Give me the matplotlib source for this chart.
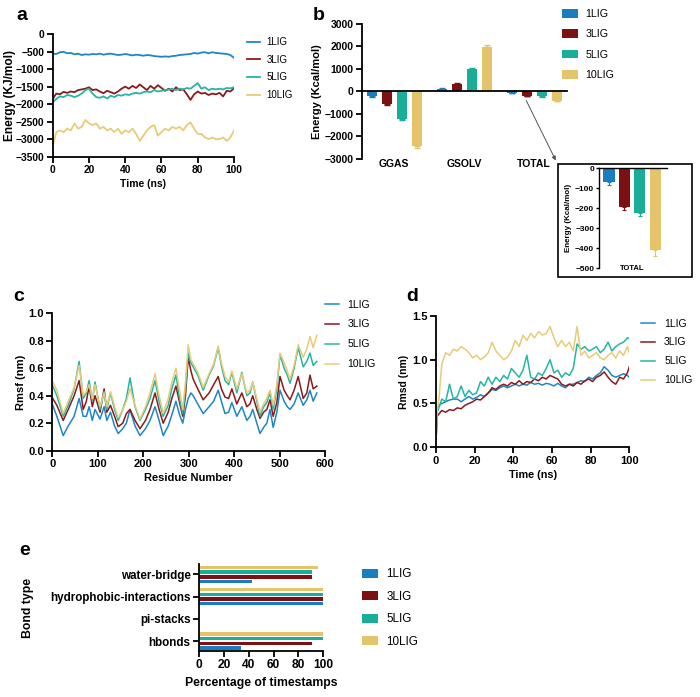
import numpy as np
import matplotlib
matplotlib.use("Agg")
import matplotlib.pyplot as plt
from matplotlib.patches import Rectangle, FancyArrowPatch
from matplotlib.transforms import blended_transform_factory

plt.rcParams['font.family'] = ['Liberation Sans', 'DejaVu Sans']

# ---------------- data ----------------
series = ["1LIG", "3LIG", "5LIG", "10LIG"]
colors = ["#1a7dc0", "#7b1113", "#1aae98", "#e3c46a"]
line_colors = ["#1f86c4", "#8a1a1c", "#26b5a2", "#e6cc78"]

# (a) energy vs time, every 2 ns
time_a = list(range(0, 101, 2))
energy_1lig = [-560, -570, -520, -510, -550, -540, -580, -560, -600, -580, -590, -570, -580, -560, -590, -570,
               -560, -580, -600, -590, -570, -590, -610, -590, -600, -620, -600, -610, -630, -640, -650, -640,
               -650, -630, -620, -600, -590, -580, -570, -540, -560, -530, -520, -550, -520, -540, -550, -560,
               -570, -600, -680]
energy_3lig = [-1850, -1700, -1720, -1650, -1680, -1640, -1660, -1600, -1580, -1560, -1520, -1600, -1580, -1640,
               -1690, -1620, -1660, -1700, -1640, -1560, -1500, -1560, -1480, -1540, -1440, -1520, -1600, -1480,
               -1560, -1460, -1540, -1620, -1560, -1640, -1520, -1600, -1580, -1720, -1880, -1720, -1640, -1700,
               -1680, -1740, -1700, -1720, -1680, -1780, -1620, -1640, -1550]
energy_5lig = [-1950, -1850, -1780, -1800, -1740, -1760, -1800, -1760, -1700, -1600, -1560, -1700, -1800, -1820,
               -1780, -1840, -1760, -1800, -1740, -1760, -1720, -1740, -1700, -1680, -1700, -1660, -1640, -1660,
               -1600, -1640, -1620, -1600, -1580, -1560, -1600, -1560, -1580, -1540, -1560, -1480, -1400, -1560,
               -1520, -1600, -1560, -1580, -1560, -1580, -1540, -1550, -1520]
energy_10lig = [-3200, -2800, -2750, -2800, -2700, -2750, -2550, -2700, -2650, -2450, -2550, -2600, -2550, -2700,
                -2650, -2750, -2700, -2800, -2700, -2850, -2750, -2800, -2700, -2850, -3050, -2900, -2750, -2650,
                -2600, -2900, -2800, -2700, -2750, -2650, -2700, -2650, -2750, -2600, -2520, -2700, -2850, -2850,
                -2950, -3000, -2950, -3000, -3000, -2950, -3050, -2950, -2750]

# (b) MM-GBSA energy components
components = ["GGAS", "GSOLV", "TOTAL"]
ggas = [-220, -550, -1215, -2430]
ggas_err = [30, 50, 80, 100]
gsolv = [120, 340, 980, 1970]
gsolv_err = [30, 40, 50, 110]
total = [-70, -195, -225, -410]
total_err = [12, 15, 15, 30]

# (c) RMSF
residue = [1, 10, 24, 35, 48, 59, 68, 75, 81, 88, 94, 105, 114, 120, 128, 137, 145, 155, 163, 171, 182, 193,
           205, 215, 226, 235, 244, 255, 263, 272, 280, 287, 293, 299, 305, 310, 320, 332, 345, 355, 365, 372,
           380, 388, 395, 406, 417, 428, 435, 441, 450, 457, 465, 472, 479, 486, 494, 501, 510, 517, 523, 532,
           541, 552, 560, 567, 574, 582]
rmsf_1lig = [0.33, 0.25, 0.11, 0.18, 0.25, 0.38, 0.25, 0.25, 0.32, 0.22, 0.30, 0.23, 0.32, 0.22, 0.28, 0.18,
             0.125, 0.16, 0.20, 0.30, 0.18, 0.11, 0.16, 0.22, 0.32, 0.22, 0.11, 0.18, 0.26, 0.36, 0.26, 0.20,
             0.30, 0.38, 0.42, 0.40, 0.34, 0.27, 0.32, 0.36, 0.44, 0.36, 0.27, 0.28, 0.35, 0.25, 0.32, 0.22,
             0.25, 0.30, 0.20, 0.125, 0.17, 0.20, 0.30, 0.17, 0.28, 0.44, 0.36, 0.32, 0.30, 0.34, 0.42, 0.33,
             0.37, 0.44, 0.36, 0.42]
rmsf_3lig = [0.38, 0.33, 0.22, 0.30, 0.40, 0.51, 0.30, 0.36, 0.47, 0.32, 0.40, 0.28, 0.45, 0.28, 0.33, 0.25,
             0.175, 0.20, 0.27, 0.30, 0.22, 0.16, 0.22, 0.30, 0.42, 0.30, 0.20, 0.28, 0.38, 0.47, 0.35, 0.25,
             0.40, 0.68, 0.58, 0.52, 0.45, 0.37, 0.42, 0.48, 0.54, 0.45, 0.39, 0.38, 0.45, 0.34, 0.42, 0.32,
             0.34, 0.40, 0.30, 0.235, 0.28, 0.30, 0.37, 0.25, 0.35, 0.54, 0.44, 0.40, 0.37, 0.44, 0.54, 0.38,
             0.42, 0.55, 0.45, 0.47]
rmsf_5lig = [0.47, 0.40, 0.25, 0.33, 0.45, 0.65, 0.38, 0.42, 0.51, 0.36, 0.50, 0.30, 0.43, 0.30, 0.42, 0.30,
             0.22, 0.30, 0.38, 0.53, 0.32, 0.22, 0.30, 0.38, 0.51, 0.36, 0.25, 0.33, 0.45, 0.55, 0.38, 0.27,
             0.45, 0.71, 0.64, 0.61, 0.55, 0.44, 0.55, 0.62, 0.75, 0.62, 0.51, 0.48, 0.57, 0.42, 0.57, 0.40,
             0.42, 0.50, 0.36, 0.25, 0.32, 0.35, 0.42, 0.30, 0.45, 0.70, 0.60, 0.55, 0.49, 0.60, 0.75, 0.61,
             0.65, 0.71, 0.62, 0.65]
rmsf_10lig = [0.50, 0.44, 0.27, 0.36, 0.46, 0.62, 0.40, 0.43, 0.48, 0.38, 0.48, 0.32, 0.42, 0.32, 0.43, 0.32,
              0.24, 0.30, 0.36, 0.45, 0.33, 0.23, 0.32, 0.42, 0.56, 0.40, 0.27, 0.38, 0.50, 0.60, 0.44, 0.30,
              0.50, 0.77, 0.66, 0.63, 0.57, 0.46, 0.56, 0.63, 0.76, 0.64, 0.54, 0.50, 0.58, 0.45, 0.56, 0.42,
              0.44, 0.50, 0.38, 0.28, 0.34, 0.38, 0.44, 0.33, 0.48, 0.71, 0.64, 0.58, 0.52, 0.62, 0.77, 0.68,
              0.74, 0.83, 0.75, 0.84]

# (d) RMSD
time_d = [0, 0.5, 1.5, 3, 5, 7, 9, 11, 13, 15, 17, 19, 21, 23, 25, 27, 29, 31, 33, 35, 37, 39, 41, 43, 45, 47,
          49, 51, 53, 55, 57, 59, 61, 63, 65, 67, 69, 71, 73, 75, 77, 79, 81, 83, 85, 87, 89, 91, 93, 95, 97,
          99, 100]
rmsd_1lig = [0.05, 0.42, 0.48, 0.50, 0.52, 0.54, 0.55, 0.55, 0.52, 0.55, 0.58, 0.55, 0.57, 0.60, 0.58, 0.62,
             0.66, 0.65, 0.68, 0.70, 0.68, 0.70, 0.72, 0.70, 0.72, 0.71, 0.74, 0.72, 0.73, 0.71, 0.73, 0.72,
             0.70, 0.73, 0.70, 0.68, 0.72, 0.72, 0.74, 0.76, 0.75, 0.80, 0.78, 0.82, 0.85, 0.92, 0.88, 0.82,
             0.80, 0.82, 0.84, 0.82, 0.80]
rmsd_3lig = [0.05, 0.35, 0.38, 0.42, 0.40, 0.43, 0.42, 0.45, 0.44, 0.48, 0.50, 0.52, 0.55, 0.54, 0.58, 0.62,
             0.68, 0.66, 0.70, 0.72, 0.70, 0.74, 0.72, 0.76, 0.72, 0.75, 0.74, 0.78, 0.76, 0.80, 0.78, 0.82,
             0.80, 0.78, 0.72, 0.70, 0.72, 0.70, 0.74, 0.72, 0.76, 0.78, 0.75, 0.80, 0.82, 0.86, 0.80, 0.75,
             0.72, 0.80, 0.78, 0.85, 0.92]
rmsd_5lig = [0.05, 0.40, 0.45, 0.55, 0.52, 0.72, 0.55, 0.58, 0.70, 0.58, 0.65, 0.60, 0.62, 0.75, 0.70, 0.80,
             0.72, 0.80, 0.75, 0.82, 0.78, 0.90, 0.85, 0.80, 0.88, 1.05, 0.80, 0.78, 0.85, 0.82, 0.90, 1.00,
             0.85, 0.88, 0.80, 0.85, 0.82, 0.90, 1.18, 1.12, 1.15, 1.10, 1.12, 1.15, 1.08, 1.12, 1.20, 1.10,
             1.15, 1.18, 1.20, 1.25, 1.24]
rmsd_10lig = [0.05, 0.40, 0.55, 0.95, 1.08, 1.05, 1.12, 1.10, 1.15, 1.12, 1.08, 1.02, 1.05, 1.00, 1.03, 1.08,
              1.20, 1.10, 1.05, 1.00, 1.03, 1.10, 1.22, 1.15, 1.28, 1.22, 1.30, 1.25, 1.32, 1.28, 1.30, 1.38,
              1.25, 1.15, 1.22, 1.15, 1.20, 1.10, 1.38, 1.05, 1.10, 1.02, 1.05, 1.08, 1.02, 1.00, 1.05, 1.08,
              1.02, 1.10, 1.05, 1.15, 1.08]

# (e) interactions
bond_types = ["hbonds", "pi-stacks", "hydrophobic-interactions", "water-bridge"]
pct_1lig = [34, 0, 100, 43]
pct_3lig = [91, 0, 100, 91]
pct_5lig = [100, 0, 100, 91]
pct_10lig = [100, 0, 100, 96]

# ---------------- figure ----------------
W, H = 700, 697
fig = plt.figure(figsize=(7.0, 6.97), dpi=100)


def ax_px(left, top, right, bottom):
    return fig.add_axes([left / W, 1 - bottom / H, (right - left) / W, (bottom - top) / H])


def style(ax, tick_fs=8):
    for s in ["top", "right"]:
        ax.spines[s].set_visible(False)
    for s in ["left", "bottom"]:
        ax.spines[s].set_linewidth(1.3)
    ax.tick_params(width=1.3, length=4, labelsize=tick_fs, pad=2)
    for lab in ax.get_xticklabels() + ax.get_yticklabels():
        lab.set_fontweight("bold")


def legend_at(ax, x, y, fs, hl, tp, ls, **kw):
    ax.legend(loc="upper left", bbox_to_anchor=(x / W, 1 - y / H), bbox_transform=fig.transFigure,
              frameon=False, fontsize=fs, handlelength=hl, handletextpad=tp, labelspacing=ls,
              borderpad=0, borderaxespad=0, **kw)


# ---- panel a ----
axa = ax_px(52.7, 34, 234, 156.7)
for vals, c, name in zip([energy_1lig, energy_3lig, energy_5lig, energy_10lig], line_colors, series):
    axa.plot(time_a, vals, color=c, lw=1.3, label=name)
axa.set_xlim(0, 100)
axa.set_ylim(-3500, 0)
axa.set_xticks(range(0, 101, 20))
axa.set_yticks(range(-3500, 1, 500))
style(axa, 7.4)
axa.set_xlabel("Time (ns)", labelpad=3, fontsize=7.5, fontweight="bold")
axa.set_ylabel("Energy (KJ/mol)", fontsize=8.6, fontweight="bold")
axa.yaxis.set_label_coords(-0.20, 0.5)
legend_at(axa, 246.7, 37, 7, 1.37, 0.69, 0.79)

# ---- panel b ----
axb = ax_px(361.7, 24, 566.7, 158.7)
grp = np.arange(len(components))
offs = np.array([-1.5, -0.5, 0.5, 1.5]) * 0.214
bw = 0.143
for i, (name, c) in enumerate(zip(series, colors)):
    vals = [ggas[i], gsolv[i], total[i]]
    errs = [ggas_err[i], gsolv_err[i], total_err[i]]
    lo = [e if v < 0 else 0 for v, e in zip(vals, errs)]
    hi = [e if v > 0 else 0 for v, e in zip(vals, errs)]
    axb.bar(grp + offs[i], vals, width=bw, color=c, label=name,
            yerr=[lo, hi], error_kw=dict(ecolor=c, elinewidth=1, capsize=2, capthick=1))
axb.set_xlim(-0.464, 2.464)
axb.set_ylim(-3000, 3000)
axb.set_yticks(range(-3000, 3001, 1000))
axb.spines["bottom"].set_position(("data", 0))
axb.set_xticks([])
style(axb, 7.5)
trb = blended_transform_factory(axb.transData, axb.transAxes)
for g, name in zip(grp, components):
    axb.text(g, -0.005, name, transform=trb, ha="center", va="top", fontsize=7.5, fontweight="bold")
axb.set_ylabel("Energy (Kcal/mol)", labelpad=2, fontsize=8, fontweight="bold")
legend_at(axb, 561.7, 9, 7.7, 1.55, 0.69, 0.97, handleheight=0.85)

# inset box
fig.add_artist(Rectangle((557.7 / W, 1 - 277.3 / H), 134 / W, 113.3 / H, transform=fig.transFigure,
                         fill=False, edgecolor="black", lw=1.2))
axi = ax_px(599, 168.3, 666.7, 268.3)
for k, (v, e, c) in enumerate(zip(total, total_err, colors)):
    axi.bar(k, v, width=0.72, color=c, yerr=[[e], [0]],
            error_kw=dict(ecolor=c, elinewidth=0.8, capsize=1.5, capthick=0.8))
axi.set_xlim(-0.65, 3.76)
axi.set_ylim(-500, 0)
axi.set_yticks(range(-500, 1, 100))
axi.set_xticks([])
for s in ["right", "bottom"]:
    axi.spines[s].set_visible(False)
axi.spines["left"].set_linewidth(1.0)
axi.spines["top"].set_linewidth(1.0)
axi.tick_params(width=1.0, length=2.5, labelsize=6, pad=1)
for lab in axi.get_yticklabels():
    lab.set_fontweight("bold")
axi.text(1.5, -500, "TOTAL", ha="center", va="center", fontsize=5.5, fontweight="bold")
axi.set_ylabel("Energy (Kcal/mol)", fontsize=5.8, fontweight="bold", labelpad=2)

fig.add_artist(FancyArrowPatch((525 / W, 1 - 98 / H), (557 / W, 1 - 163 / H), transform=fig.transFigure,
                               arrowstyle="-|>", mutation_scale=6, color="#555555", lw=0.7))

# ---- panel c ----
axc = ax_px(52.3, 313.2, 325, 450.7)
for vals, c, name in zip([rmsf_1lig, rmsf_3lig, rmsf_5lig, rmsf_10lig], line_colors, series):
    axc.plot(residue, vals, color=c, lw=1.1, label=name)
axc.set_xlim(0, 600)
axc.set_ylim(0, 1.0)
axc.set_xticks(range(0, 601, 100))
axc.set_yticks(np.arange(0, 1.01, 0.2))
axc.yaxis.set_major_formatter(matplotlib.ticker.FormatStrFormatter("%.1f"))
style(axc, 8)
axc.set_xlabel("Residue Number", labelpad=3, fontsize=8, fontweight="bold")
axc.set_ylabel("Rmsf (nm)", labelpad=2, fontsize=8, fontweight="bold")
legend_at(axc, 325, 299.5, 7.5, 1.35, 0.82, 0.95)

# ---- panel d ----
axd = ax_px(436, 315.9, 629.3, 447.3)
for vals, c, name in zip([rmsd_1lig, rmsd_3lig, rmsd_5lig, rmsd_10lig], line_colors, series):
    axd.plot(time_d, vals, color=c, lw=1.1, label=name)
axd.set_xlim(0, 100)
axd.set_ylim(0, 1.5)
axd.set_xticks(range(0, 101, 20))
axd.set_yticks([0, 0.5, 1.0, 1.5])
axd.yaxis.set_major_formatter(matplotlib.ticker.FormatStrFormatter("%.1f"))
style(axd, 8)
axd.set_xlabel("Time (ns)", labelpad=3, fontsize=7.8, fontweight="bold")
axd.set_ylabel("Rmsd (nm)", labelpad=2, fontsize=7.5, fontweight="bold")
legend_at(axd, 641, 318.5, 7.5, 1.35, 0.87, 0.86)

# ---- panel e ----
axe = ax_px(199, 564, 323.3, 651)
yc = np.arange(len(bond_types))
eoffs = np.array([-1.5, -0.5, 0.5, 1.5]) * 0.21
for vals, c, name, o in zip([pct_1lig, pct_3lig, pct_5lig, pct_10lig], colors, series, eoffs):
    axe.barh(yc + o, vals, height=0.16, color=c, label=name)
axe.set_xlim(0, 100)
axe.set_ylim(-0.45, 3.47)
axe.set_yticks(yc)
axe.set_yticklabels(bond_types)
axe.set_xticks(range(0, 101, 20))
style(axe, 8.6)
for lab in axe.get_yticklabels():
    lab.set_fontsize(8.4)
axe.set_xlabel("Percentage of timestamps", labelpad=4, fontsize=8.8, fontweight="bold")
axe.set_ylabel("Bond type", labelpad=12, fontsize=8.8, fontweight="bold")
legend_at(axe, 361.7, 568.3, 8.4, 1.42, 0.72, 0.9, handleheight=0.8)

# panel letters
for ch, x, y in [("a", 16, 20), ("b", 313, 20), ("c", 13, 301), ("d", 406, 301), ("e", 19, 555)]:
    fig.text(x / W, 1 - y / H, ch, fontsize=14, fontweight="bold", va="baseline")

fig.savefig("out.png", dpi=100)
